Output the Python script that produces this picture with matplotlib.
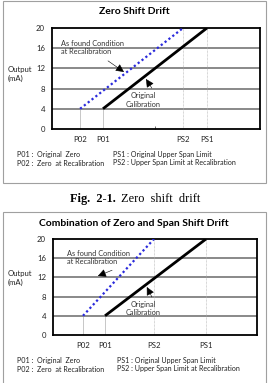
import matplotlib
matplotlib.use("Agg")
import matplotlib.pyplot as plt
from matplotlib.patches import Rectangle

# Figure size in pixels
W, H = 268, 383

# Panel 1: zero shift drift (x positions on a 0..10 axis)
zero_ticks = [1.35, 2.45, 6.3, 7.45]
zero_labels = ["P02", "P01", "PS2", "PS1"]
zero_found = ([1.35, 6.3], [4, 20])      # as found condition at recalibration
zero_orig = ([2.45, 7.45], [4, 20])      # original calibration

# Panel 2: combination of zero and span shift drift
comb_ticks = [1.47, 2.55, 4.95, 7.5]
comb_labels = ["P02", "P01", "PS2", "PS1"]
comb_found = ([1.47, 4.95], [4, 20])
comb_orig = ([2.55, 7.5], [4, 20])

y_ticks = [0, 4, 8, 12, 16, 20]
legend_left = ["P01 :  Original  Zero", "P02 :  Zero  at Recalibration"]
legend_right = ["PS1 : Original Upper Span Limit",
                "PS2 : Upper Span Limit at Recalibration"]

FONT = "Lato"
TXT = "#222222"


def px_rect(l, t, r, b):
    return [l / W, 1 - b / H, (r - l) / W, (b - t) / H]


def draw_panel(fig, box, ax_box, title, title_y, ticks, labels, found, orig,
               found_txt, found_arrow, orig_txt, orig_arrow, leg_y, leg_x2,
               out_y, mid_tick=None):
    # outer frame
    l, t, r, b = box
    fig.patches.append(Rectangle((l / W, 1 - b / H), (r - l) / W, (b - t) / H,
                                 transform=fig.transFigure, fill=False,
                                 edgecolor="#a0a0a0", lw=0.8))
    fig.text(134 / W, 1 - title_y / H, title, ha="center", va="center",
             fontsize=7.5, fontweight="bold", family=FONT)

    ax = fig.add_axes(px_rect(*ax_box))
    ax.set_xlim(0, 10)
    ax.set_ylim(0, 20)
    for yv in y_ticks[1:-1]:
        ax.axhline(yv, color="#808080", lw=1.3, zorder=1)
    # thin vertical reference lines
    ax.vlines(ticks[:2], 0, 4, color="#b0b0b0", lw=0.5, zorder=1)
    ax.vlines(ticks[2:], 0, 20, color="#b0b0b0", lw=0.5, zorder=1,
              linestyles=(0, (1, 1)))

    ax.plot(*found, color="#2a2adc", lw=1.6, ls=(0, (1, 1.2)), zorder=3)
    ax.plot(*orig, color="black", lw=2.0, solid_capstyle="butt", zorder=3)

    ax.set_yticks(y_ticks)
    ax.set_yticklabels([str(v) for v in y_ticks], fontsize=5.6, family=FONT,
                       color=TXT)
    ax.set_xticks(ticks)
    ax.set_xticklabels(labels, fontsize=5.6, family=FONT, color=TXT)
    ax.tick_params(length=0, pad=5)
    if mid_tick is not None:
        ax.set_xticks([mid_tick], minor=True)
        ax.tick_params(axis="x", which="minor", direction="in", length=2.5,
                       width=0.6, color="#555555")
    for s in ax.spines.values():
        s.set_linewidth(1.3)
        s.set_color("black")

    arrow = dict(arrowstyle="-|>,head_length=0.5,head_width=0.25",
                 color="black", lw=0.4, shrinkA=0, shrinkB=0)
    ax.text(*found_txt, "As found Condition\nat Recalibration", fontsize=5.3,
            family=FONT, va="center", ha="left", color="#333333",
            linespacing=1.25)
    ax.annotate("", xy=found_arrow[1], xytext=found_arrow[0], arrowprops=arrow)
    ax.text(*orig_txt, "Original\nCalibration", fontsize=5.3, family=FONT,
            va="center", ha="center", color="#333333", linespacing=1.25)
    ax.annotate("", xy=orig_arrow[1], xytext=orig_arrow[0], arrowprops=arrow)

    fig.text(8 / W, 1 - out_y / H, "Output\n(mA)", fontsize=5.6, family=FONT,
             ha="left", va="center", linespacing=1.3, color=TXT)

    for i in range(2):
        y = 1 - leg_y[i] / H
        fig.text(17 / W, y, legend_left[i], fontsize=5.1, family=FONT,
                 va="center", ha="left", color=TXT)
        fig.text(leg_x2 / W, y, legend_right[i], fontsize=5.1, family=FONT,
                 va="center", ha="left", color=TXT)
    return ax


fig = plt.figure(figsize=(W / 100, H / 100), dpi=100)

draw_panel(fig, (3, 1, 266, 183), (52, 28, 260, 129), "Zero Shift Drift", 12,
           zero_ticks, zero_labels, zero_found, zero_orig,
           (0.45, 16.1), ((2.69, 13.5), (3.46, 11.3)),
           (4.4, 5.7), ((4.8, 8.1), (4.52, 9.9)),
           (154, 163), 113, 74, mid_tick=4.95)

draw_panel(fig, (3, 212, 266, 384), (53, 239, 257, 335),
           "Combination of Zero and Span Shift Drift", 223,
           comb_ticks, comb_labels, comb_found, comb_orig,
           (0.7, 16.15), ((2.9, 13.5), (2.2, 12.3)),
           (4.41, 5.5), ((4.85, 7.9), (4.6, 10.0)),
           (360, 369), 117, 278)

# caption between the panels
fig.text(116 / W, 1 - 199 / H, "Fig.  2-1.", fontsize=8.8, fontweight="bold",
         family="Liberation Serif", ha="right", va="center")
fig.text(121 / W, 1 - 199 / H, "Zero  shift  drift", fontsize=8.8,
         family="Liberation Serif", ha="left", va="center")

fig.savefig("out.png", dpi=100)
